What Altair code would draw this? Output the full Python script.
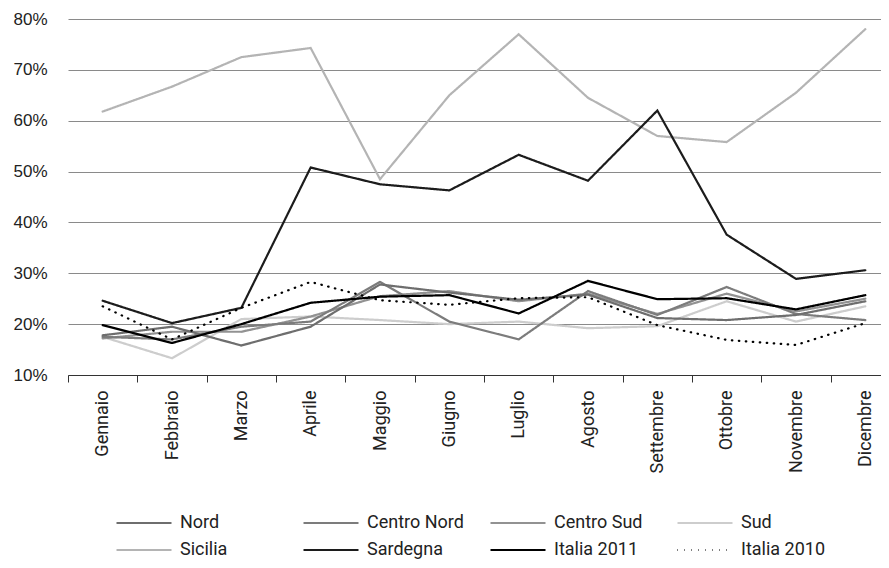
import altair as alt
import pandas as pd

months = ["Gennaio", "Febbraio", "Marzo", "Aprile", "Maggio", "Giugno",
          "Luglio", "Agosto", "Settembre", "Ottobre", "Novembre", "Dicembre"]

series_names = ["Nord", "Centro Nord", "Centro Sud", "Sud",
                "Sicilia", "Sardegna", "Italia 2011", "Italia 2010"]

nord        = [17.8, 19.5, 15.8, 19.5, 27.8, 26.2, 24.8, 25.8, 21.2, 20.8, 21.8, 24.5]
centro_nord = [17.5, 17.0, 19.5, 20.5, 28.3, 20.5, 17.0, 26.5, 21.8, 27.3, 22.0, 20.8]
centro_sud  = [17.2, 18.5, 18.5, 21.5, 25.5, 26.5, 24.5, 26.0, 22.0, 26.0, 22.5, 25.0]
sud         = [17.5, 13.3, 21.0, 21.5, 20.8, 20.0, 20.5, 19.2, 19.6, 24.5, 20.5, 23.5]
sicilia     = [61.8, 66.7, 72.5, 74.3, 48.5, 65.0, 77.0, 64.5, 57.0, 55.8, 65.5, 78.0]
sardegna    = [24.6, 20.2, 23.2, 50.8, 47.5, 46.3, 53.3, 48.2, 62.0, 37.6, 28.9, 30.6]
italia_2011 = [19.8, 16.3, 20.0, 24.2, 25.4, 25.7, 22.1, 28.5, 24.9, 25.1, 22.9, 25.7]
italia_2010 = [23.5, 17.0, 23.2, 28.3, 24.7, 23.8, 25.1, 25.3, 19.8, 16.9, 15.9, 20.2]

values = {
    "Nord": nord, "Centro Nord": centro_nord, "Centro Sud": centro_sud,
    "Sud": sud, "Sicilia": sicilia, "Sardegna": sardegna,
    "Italia 2011": italia_2011, "Italia 2010": italia_2010,
}

colors = ["#6e6e6e", "#7c7c7c", "#929292", "#cdcdcd",
          "#b4b4b4", "#1c1c1c", "#000000", "#000000"]
dashes = [[1, 0], [1, 0], [1, 0], [1, 0], [1, 0], [1, 0], [1, 0], [0.5, 6.5]]
widths = [2.2, 2.2, 2.2, 2.2, 2.2, 2.6, 3.0, 2.6]

y_ticks = [10, 20, 30, 40, 50, 60, 70, 80]

draw_order = ["Sicilia", "Sud", "Centro Sud", "Centro Nord", "Nord",
              "Sardegna", "Italia 2010", "Italia 2011"]
rows = []
for name in draw_order:
    for m, v in zip(months, values[name]):
        rows.append({"mese": m, "valore": v, "serie": name})
df = pd.DataFrame(rows)

label_font = "Liberation Sans Narrow, Roboto, Liberation Sans, sans-serif"

legend = alt.Legend(
    title=None, orient="none", legendX=47, legendY=494,
    direction="horizontal", columns=4, gridAlign="all",
    symbolType="stroke", symbolSize=3025, labelFontSize=18,
    labelFont=label_font, labelColor="#222222", labelOffset=7,
    columnPadding=25, rowPadding=7, padding=0, clipHeight=20,
)

chart = alt.Chart(df).mark_line(strokeCap="round").encode(
    x=alt.X("mese:N", sort=months,
            scale=alt.Scale(domain=months, range=[0, 832],
                            paddingInner=0, paddingOuter=0),
            axis=alt.Axis(title=None, labelAngle=-90, tickBand="extent",
                          tickSize=7, labelPadding=8, labelFontSize=18,
                          labelFont=label_font, labelColor="#222222",
                          labelOverlap=False, labelBound=False,
                          domainColor="#333333", tickColor="#333333",
                          grid=False)),
    y=alt.Y("valore:Q",
            scale=alt.Scale(domain=[10, 80], nice=False, zero=False),
            axis=alt.Axis(title=None, values=y_ticks,
                          labelExpr="datum.value + '%'",
                          domain=False, ticks=False, grid=True,
                          gridColor="#8a8a8a", gridWidth=1.2,
                          labelFontSize=17, labelFont="Liberation Sans",
                          labelColor="#222222", labelPadding=21)),
    color=alt.Color("serie:N", scale=alt.Scale(domain=series_names, range=colors),
                    legend=legend),
    strokeDash=alt.StrokeDash("serie:N", scale=alt.Scale(domain=series_names, range=dashes),
                              legend=legend),
    strokeWidth=alt.StrokeWidth("serie:N", scale=alt.Scale(domain=series_names, range=widths),
                                legend=legend),
).properties(
    width=813, height=356,
    padding={"left": 60, "top": 11, "right": 0, "bottom": 185},
    autosize=alt.AutoSizeParams(type="none"),
).configure_view(stroke=None)

chart.save("out.html", embed_options={"renderer": "svg", "actions": False})
